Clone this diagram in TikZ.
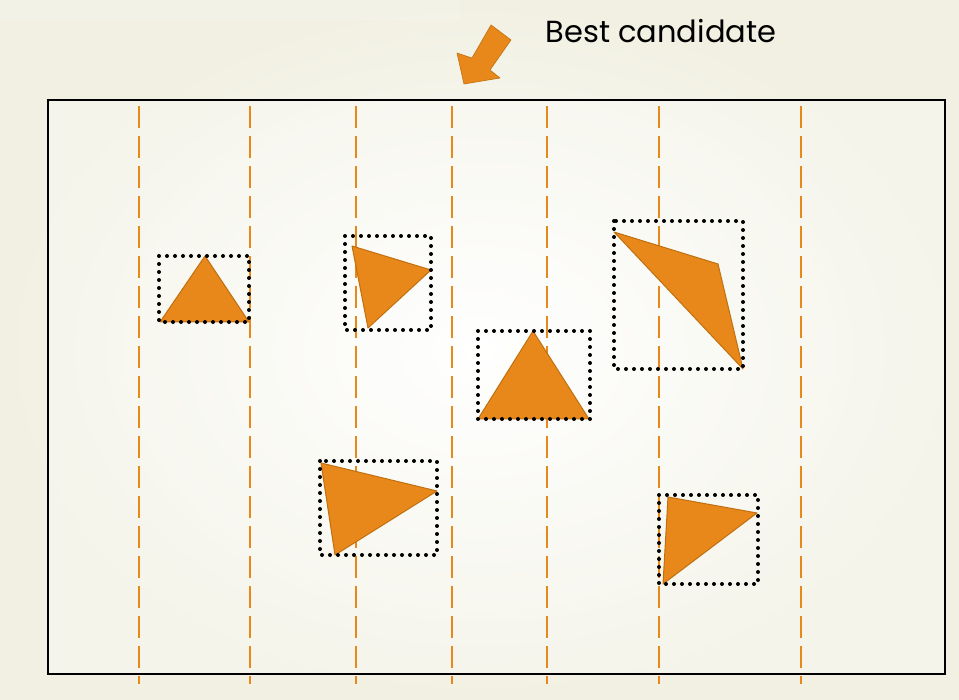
\documentclass[tikz,border=0pt]{standalone}
\usepackage{fontspec}
\setmainfont{Poppins}
\usepackage{xcolor}
\definecolor{cream}{HTML}{F1F0E2}
\definecolor{ocre}{HTML}{E8871A}
\definecolor{ocredark}{HTML}{C0700F}

\tikzset{
  cut/.style={ocre, line width=2.4pt, dash pattern=on 22pt off 8pt},
  bbox/.style={black, line width=4pt, line cap=round, dash pattern=on 0pt off 8pt},
  piece/.style={fill=ocre, draw=ocredark, line width=1pt, line join=round},
}

\begin{document}
\begin{tikzpicture}[x=1pt, y=-1pt]
    \useasboundingbox (0,0) rectangle (959,700);

    % Background
    \shade[inner color=white, outer color=cream] (0,0) rectangle (959,700);
    \fill[white, opacity=0.15] (0,0) rectangle (460,20);

    % Sheet
    \draw[line width=2.2pt, fill=white, fill opacity=0.3] (48,100) rectangle (945,674);

    % Cutting lines
    \foreach \x in {139, 250, 356, 452, 547, 659, 801}
        \draw[cut] (\x,106) -- (\x,684);

    % Pieces with their bounding boxes
    \draw[piece] (160,322) -- (205,256) -- (249,322) -- cycle;
    \draw[bbox] (159,256) rectangle (249,322);

    \draw[piece] (352,246) -- (431,270) -- (368,328) -- cycle;
    \draw[bbox] (345,236) rectangle (431,330);

    \draw[piece] (478,419) -- (533,331) -- (589,419) -- cycle;
    \draw[bbox] (478,331) rectangle (590,419);

    \draw[piece] (614,232) -- (718,264) -- (743,369) -- cycle;
    \draw[bbox] (614,221) rectangle (743,369);

    \draw[piece] (321,463) -- (437,491) -- (335,555) -- cycle;
    \draw[bbox] (320,461) rectangle (437,555);

    \draw[piece] (668,497) -- (757,513) -- (663,584) -- cycle;
    \draw[bbox] (659,495) rectangle (758,584);

    % Best candidate marker
    \fill[ocre, draw=ocredark, line width=0.6pt, line join=round]
        (464,84) -- (457,53) -- (472,58) -- (491,25) -- (511,40)
        -- (490,70) -- (500,78) -- cycle;
    \node[anchor=west, font=\fontsize{30.5}{36}\selectfont] (best) at (542,31) {Best candidate};
\end{tikzpicture}
\end{document}
